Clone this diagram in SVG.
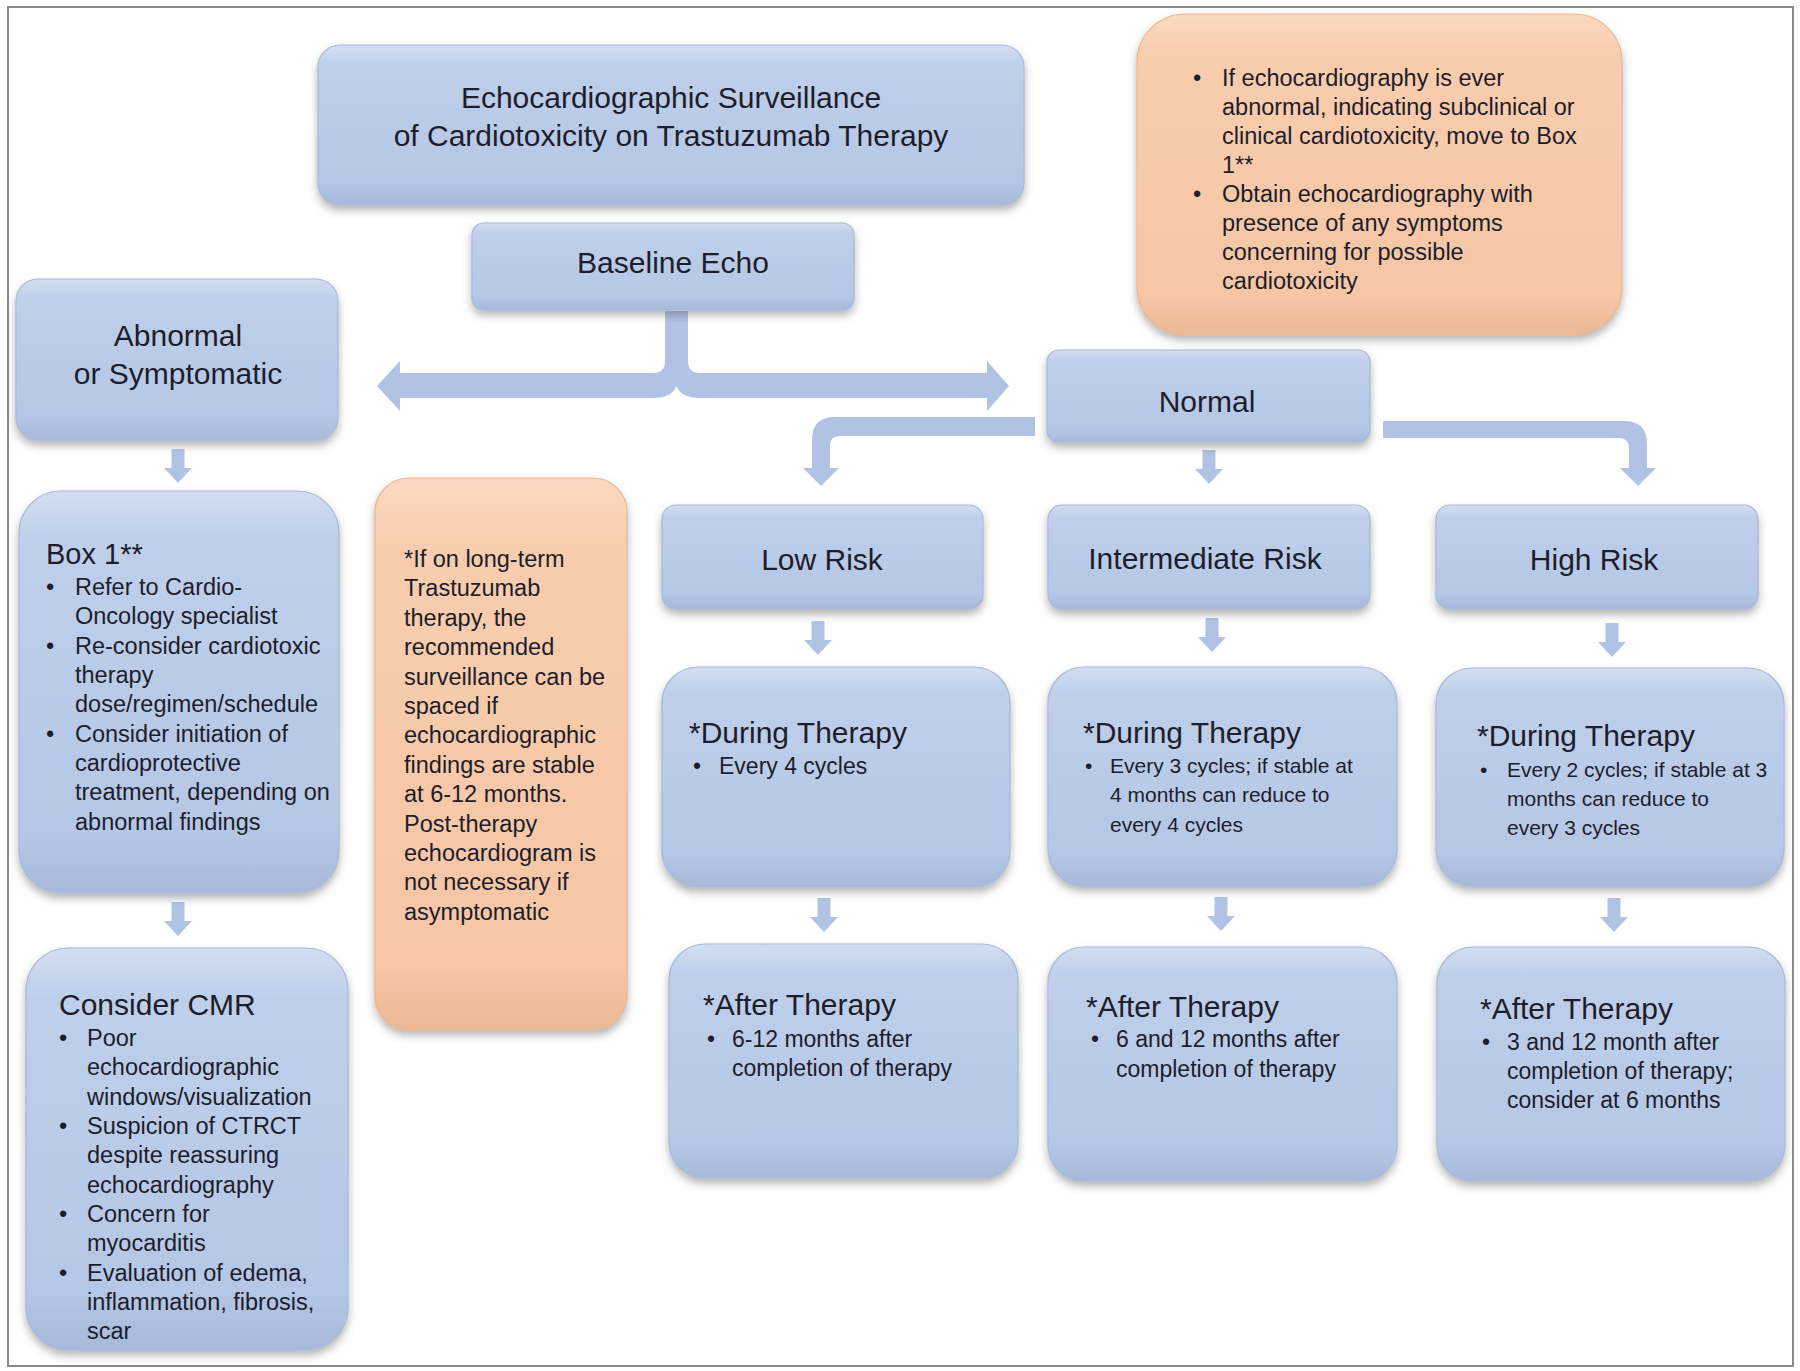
<svg xmlns="http://www.w3.org/2000/svg" xmlns:xlink="http://www.w3.org/1999/xlink" width="1800" height="1371" viewBox="0 0 1800 1371">
<defs>
<linearGradient id="gBlue" x1="0" y1="0" x2="0" y2="1">
<stop offset="0" stop-color="#d3def1"/>
<stop offset="0.12" stop-color="#bfcfea"/>
<stop offset="0.85" stop-color="#b5c7e6"/>
<stop offset="1" stop-color="#a6b9da"/>
</linearGradient>
<linearGradient id="gOrange" x1="0" y1="0" x2="0" y2="1">
<stop offset="0" stop-color="#fbd9c0"/>
<stop offset="0.12" stop-color="#f8cdae"/>
<stop offset="0.88" stop-color="#f6c6a5"/>
<stop offset="1" stop-color="#eab894"/>
</linearGradient>
<filter id="shadow" x="-10%" y="-10%" width="120%" height="130%">
<feDropShadow dx="0" dy="5" stdDeviation="4" flood-color="#5a5a5a" flood-opacity="0.45"/>
</filter>
<path id="dn" d="M -6.5 0 L 6.5 0 L 6.5 19 L 14 19 L 0 34 L -14 19 L -6.5 19 Z"/>
<style>
.blue { fill: url(#gBlue); stroke: #a7badb; stroke-width: 1.2; filter: url(#shadow); }
.orange { fill: url(#gOrange); stroke: #e9b792; stroke-width: 1.2; filter: url(#shadow); }
text { font-family: "Liberation Sans", Arial, sans-serif; fill: #1d1d2b; }
.h { font-size: 30px; }
.hc { font-size: 30px; text-anchor: middle; }
.b { font-size: 23.5px; }
.s { font-size: 21px; }
.a { font-size: 23px; }
.conn { fill: #b0c3e4; }
</style>
</defs>

<rect x="8" y="7" width="1785" height="1359" fill="#ffffff" stroke="#8a8a8a" stroke-width="2"/>

<g id="connectors" class="conn">
<path d="M 400 373 L 653 373 Q 665 373 665 361 L 665 311 L 688 311 L 688 361 Q 688 373 700 373 L 987 373 L 987 398 L 700 398 Q 681 398 676.5 386 Q 672 398 653 398 L 400 398 Z"/>
<polygon points="400,361 377,386 400,411"/>
<polygon points="987,361 1009,386 987,411"/>
<path d="M 1035 417 L 835 417 Q 812 417 812 440 L 812 468 L 803 468 L 821 486 L 839 468 L 830 468 L 830 446 Q 830 436 840 436 L 1035 436 Z"/>
<path d="M 1383 421 L 1624 421 Q 1647 421 1647 444 L 1647 468 L 1656 468 L 1638 486 L 1620 468 L 1629 468 L 1629 448 Q 1629 438 1619 438 L 1383 438 Z"/>
<use xlink:href="#dn" x="178" y="449"/>
<use xlink:href="#dn" x="178" y="902"/>
<use xlink:href="#dn" x="1209" y="450"/>
<use xlink:href="#dn" x="818" y="621"/>
<use xlink:href="#dn" x="1212" y="618"/>
<use xlink:href="#dn" x="1612" y="623"/>
<use xlink:href="#dn" x="824" y="898"/>
<use xlink:href="#dn" x="1221" y="897"/>
<use xlink:href="#dn" x="1614" y="898"/>
</g>

<g id="title">
<rect class="blue" x="318" y="45" width="706" height="160" rx="22"/>
<text class="hc" x="671" y="108">Echocardiographic Surveillance</text>
<text class="hc" x="671" y="146">of Cardiotoxicity on Trastuzumab Therapy</text>
</g>

<g id="baseline-echo">
<rect class="blue" x="472" y="223" width="382" height="87" rx="12"/>
<text class="hc" x="673" y="273">Baseline Echo</text>
</g>

<g id="note-top">
<rect class="orange" x="1137" y="14" width="485" height="321" rx="48"/>
<text class="b">
<tspan x="1193" y="86">•</tspan><tspan x="1222" y="86">If echocardiography is ever</tspan>
<tspan x="1222" y="115">abnormal, indicating subclinical or</tspan>
<tspan x="1222" y="144">clinical cardiotoxicity, move to Box</tspan>
<tspan x="1222" y="173">1**</tspan>
<tspan x="1193" y="202">•</tspan><tspan x="1222" y="202">Obtain echocardiography with</tspan>
<tspan x="1222" y="231">presence of any symptoms</tspan>
<tspan x="1222" y="260">concerning for possible</tspan>
<tspan x="1222" y="289">cardiotoxicity</tspan>
</text>
</g>

<g id="abnormal">
<rect class="blue" x="16" y="279" width="322" height="161" rx="22"/>
<text class="hc" x="178" y="346">Abnormal</text>
<text class="hc" x="178" y="384">or Symptomatic</text>
</g>

<g id="normal">
<rect class="blue" x="1047" y="350" width="323" height="92" rx="12"/>
<text class="hc" x="1207" y="412">Normal</text>
</g>

<g id="box1">
<rect class="blue" x="19" y="491" width="320" height="402" rx="42"/>
<text class="h" style="font-size:29px" x="46" y="564">Box 1**</text>
<text class="b">
<tspan x="46" y="595">•</tspan><tspan x="75" y="595">Refer to Cardio-</tspan>
<tspan x="75" y="624">Oncology specialist</tspan>
<tspan x="46" y="654">•</tspan><tspan x="75" y="654">Re-consider cardiotoxic</tspan>
<tspan x="75" y="683">therapy</tspan>
<tspan x="75" y="712">dose/regimen/schedule</tspan>
<tspan x="46" y="742">•</tspan><tspan x="75" y="742">Consider initiation of</tspan>
<tspan x="75" y="771">cardioprotective</tspan>
<tspan x="75" y="800">treatment, depending on</tspan>
<tspan x="75" y="830">abnormal findings</tspan>
</text>
</g>

<g id="consider-cmr">
<rect class="blue" x="26" y="948" width="322" height="402" rx="42"/>
<text class="h" x="59" y="1015">Consider CMR</text>
<text class="b">
<tspan x="59" y="1046">•</tspan><tspan x="87" y="1046">Poor</tspan>
<tspan x="87" y="1075">echocardiographic</tspan>
<tspan x="87" y="1105">windows/visualization</tspan>
<tspan x="59" y="1134">•</tspan><tspan x="87" y="1134">Suspicion of CTRCT</tspan>
<tspan x="87" y="1163">despite reassuring</tspan>
<tspan x="87" y="1193">echocardiography</tspan>
<tspan x="59" y="1222">•</tspan><tspan x="87" y="1222">Concern for</tspan>
<tspan x="87" y="1251">myocarditis</tspan>
<tspan x="59" y="1281">•</tspan><tspan x="87" y="1281">Evaluation of edema,</tspan>
<tspan x="87" y="1310">inflammation, fibrosis,</tspan>
<tspan x="87" y="1339">scar</tspan>
</text>
</g>

<g id="note-middle">
<rect class="orange" x="375" y="478" width="252" height="552" rx="34"/>
<text class="b">
<tspan x="404" y="567">*If on long-term</tspan>
<tspan x="404" y="596">Trastuzumab</tspan>
<tspan x="404" y="626">therapy, the</tspan>
<tspan x="404" y="655">recommended</tspan>
<tspan x="404" y="685">surveillance can be</tspan>
<tspan x="404" y="714">spaced if</tspan>
<tspan x="404" y="743">echocardiographic</tspan>
<tspan x="404" y="773">findings are stable</tspan>
<tspan x="404" y="802">at 6-12 months.</tspan>
<tspan x="404" y="832">Post-therapy</tspan>
<tspan x="404" y="861">echocardiogram is</tspan>
<tspan x="404" y="890">not necessary if</tspan>
<tspan x="404" y="920">asymptomatic</tspan>
</text>
</g>

<g id="low-risk">
<rect class="blue" x="662" y="505" width="321" height="104" rx="14"/>
<text class="hc" x="822" y="570">Low Risk</text>
</g>
<g id="intermediate-risk">
<rect class="blue" x="1048" y="505" width="322" height="104" rx="14"/>
<text class="hc" x="1205" y="569">Intermediate Risk</text>
</g>
<g id="high-risk">
<rect class="blue" x="1436" y="505" width="322" height="104" rx="14"/>
<text class="hc" x="1594" y="570">High Risk</text>
</g>

<g id="low-during">
<rect class="blue" x="662" y="667" width="348" height="220" rx="36"/>
<text class="h" x="689" y="743">*During Therapy</text>
<text class="a"><tspan x="693" y="774">•</tspan><tspan x="719" y="774">Every 4 cycles</tspan></text>
</g>
<g id="intermediate-during">
<rect class="blue" x="1048" y="667" width="349" height="219" rx="36"/>
<text class="h" x="1083" y="743">*During Therapy</text>
<text class="s">
<tspan x="1085" y="773">•</tspan><tspan x="1110" y="773">Every 3 cycles; if stable at</tspan>
<tspan x="1110" y="802">4 months can reduce to</tspan>
<tspan x="1110" y="832">every 4 cycles</tspan>
</text>
</g>
<g id="high-during">
<rect class="blue" x="1436" y="668" width="348" height="218" rx="36"/>
<text class="h" x="1477" y="746">*During Therapy</text>
<text class="s">
<tspan x="1480" y="777">•</tspan><tspan x="1507" y="777">Every 2 cycles; if stable at 3</tspan>
<tspan x="1507" y="806">months can reduce to</tspan>
<tspan x="1507" y="835">every 3 cycles</tspan>
</text>
</g>

<g id="low-after">
<rect class="blue" x="669" y="944" width="349" height="234" rx="36"/>
<text class="h" x="703" y="1015">*After Therapy</text>
<text class="a">
<tspan x="707" y="1047">•</tspan><tspan x="732" y="1047">6-12 months after</tspan>
<tspan x="732" y="1076">completion of therapy</tspan>
</text>
</g>
<g id="intermediate-after">
<rect class="blue" x="1048" y="947" width="349" height="234" rx="36"/>
<text class="h" x="1086" y="1017">*After Therapy</text>
<text class="a">
<tspan x="1091" y="1047">•</tspan><tspan x="1116" y="1047">6 and 12 months after</tspan>
<tspan x="1116" y="1077">completion of therapy</tspan>
</text>
</g>
<g id="high-after">
<rect class="blue" x="1437" y="947" width="348" height="234" rx="36"/>
<text class="h" x="1480" y="1019">*After Therapy</text>
<text class="a">
<tspan x="1482" y="1050">•</tspan><tspan x="1507" y="1050">3 and 12 month after</tspan>
<tspan x="1507" y="1079">completion of therapy;</tspan>
<tspan x="1507" y="1108">consider at 6 months</tspan>
</text>
</g>
</svg>
